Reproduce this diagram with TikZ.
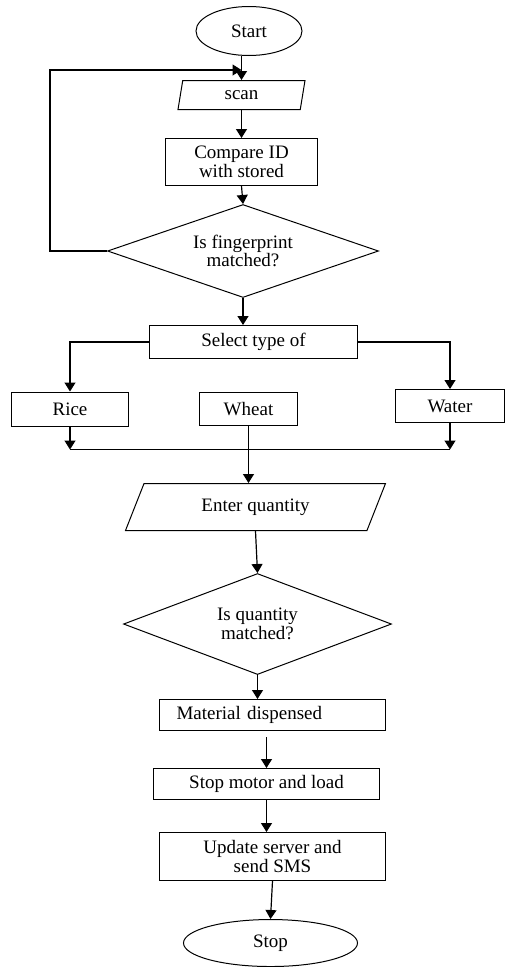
\documentclass[tikz,border=0pt]{standalone}
\usepackage{fontspec}
\setmainfont{Liberation Serif}
\usepackage{tikz}
\usetikzlibrary{arrows.meta, positioning, shapes.geometric}

\begin{document}
\begin{tikzpicture}[
    font=\fontsize{19}{18.5}\selectfont,
    line width=1pt,
    term/.style={ellipse, draw, inner sep=0pt},
    proc/.style={rectangle, draw, inner sep=0pt, align=center},
    io/.style={trapezium, draw, trapezium stretches body, inner sep=0pt},
    dec/.style={diamond, draw, aspect=2.9, inner sep=0pt, align=center},
    arr/.style={-{Triangle[length=9pt, width=11pt]}, line width=1.2pt}
]
\useasboundingbox (0,0) rectangle (505pt,-967pt);

% --- Start / scan ---
\node[term, minimum width=106pt, minimum height=49pt] (start) at (249pt,-31pt) {Start};
\node[io, trapezium left angle=62.6, trapezium right angle=117.4,
      minimum width=127pt, minimum height=29pt, below=24pt of start, xshift=-7.5pt] (scan) {scan};
\coordinate[above=10pt of scan.north] (merge);

% --- Compare and check ---
\node[proc, minimum width=152pt, minimum height=47pt, below=28pt of scan] (compare)
{Compare ID\\with stored};
\node[dec, minimum width=271pt, minimum height=93pt, below=18pt of compare, xshift=1.5pt] (finger)
{Is fingerprint\\matched?};

% --- Type selection ---
\node[proc, minimum width=208pt, minimum height=33pt, below=27pt of finger, xshift=10.5pt] (select)
{Select type of};
\node[proc, minimum width=98pt, minimum height=33pt, below=33pt of select, xshift=-5pt] (wheat) {Wheat};
\node[proc, minimum width=117pt, minimum height=34pt, left=70pt of wheat] (rice) {Rice};
\node[proc, minimum width=109pt, minimum height=33pt, right=97pt of wheat, yshift=3pt] (water) {Water};
\coordinate[below=23pt of rice.south] (bus);

% --- Quantity ---
\node[io, trapezium left angle=42, trapezium right angle=138,
      minimum width=260pt, minimum height=47pt, below=57pt of wheat, xshift=7pt] (enter) {Enter quantity};
\node[dec, minimum width=268pt, minimum height=101pt, below=42pt of enter, xshift=2pt] (qty)
{Is quantity\\matched?};

% --- Dispense and finish ---
\node[proc, minimum width=226pt, minimum height=31pt, text width=192pt, align=left,
      below=24pt of qty, xshift=15pt] (material) {Material dispensed};
\node[proc, minimum width=226pt, minimum height=31pt, below=37pt of material, xshift=-6pt] (motor)
{Stop motor and load};
\node[proc, minimum width=226pt, minimum height=48pt, below=32pt of motor, xshift=6pt] (update)
{Update server and\\send SMS};
\node[term, minimum width=174pt, minimum height=47pt, below=38pt of update, xshift=-2pt] (stop) {Stop};

% --- Arrows ---
\draw[arr] (scan.north |- start.south) -- (scan.north);
\draw[arr] (scan.south) -- (compare.north);
\draw[arr] (compare.south) -- (finger.north);
\draw[arr] (finger.west) -- ++(-57pt,0) |- (merge);
\draw[arr] (finger.south) -- (finger.south |- select.north);

\draw[arr] (select.west) -| (rice.north);
\draw[arr] (select.east) -| (water.north);
\draw[arr] (rice.south) -- (bus);
\draw[arr] (water.south) -- (water.south |- bus);
\draw (bus) -- (water.south |- bus);
\draw[arr] (wheat.south) -- (wheat.south |- enter.north);

\draw[arr] (enter.south) -- (qty.north);
\draw[arr] (qty.south) -- (qty.south |- material.north);
\draw[arr] ([yshift=-6pt]motor.north |- material.south) -- (motor.north);
\draw[arr] (motor.south) -- (motor.south |- update.north);
\draw[arr] (update.south) -- (stop.north);

\end{tikzpicture}
\end{document}
